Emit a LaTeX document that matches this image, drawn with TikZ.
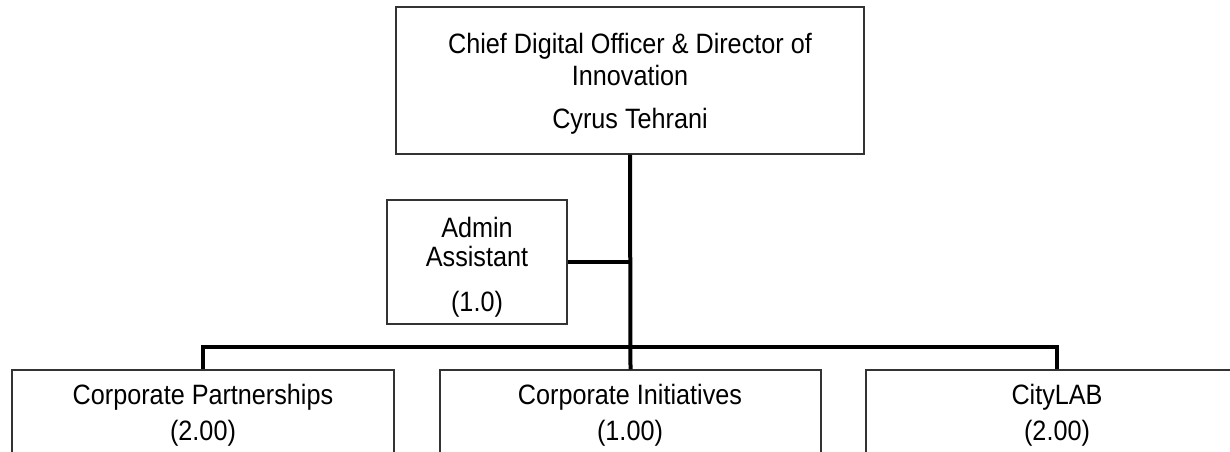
\documentclass[tikz,border=0pt]{standalone}
\usepackage{fontspec}
\setmainfont[FakeStretch=0.9]{Liberation Sans}
\begin{document}
\begin{tikzpicture}[x=1pt,y=-1pt,
  box/.style={draw=black!80,line width=1.3pt,inner sep=0pt},
  link/.style={draw=black,line width=4pt},
  txt/.style={inner sep=0pt,anchor=base,font=\fontsize{28}{32}\selectfont}]
\useasboundingbox (0,0) rectangle (1230,451);
\clip (0,0) rectangle (1230,451);
% boxes
\node[box,minimum width=468pt,minimum height=147pt] (top) at (630,80.5) {};
\node[box,minimum width=180pt,minimum height=124pt] (adm) at (477,262) {};
\node[box,minimum width=382pt,minimum height=160pt] (cp) at (203,450) {};
\node[box,minimum width=381pt,minimum height=160pt] (ci) at (630.5,450) {};
\node[box,minimum width=382pt,minimum height=160pt] (cl) at (1057,450) {};
% texts
\node[txt] (t1) at (630,53) {Chief Digital Officer \& Director of};
\node[txt] (t2) at (630,85) {Innovation};
\node[txt] (t3) at (630,128) {Cyrus Tehrani};
\node[txt] (a1) at (477,237) {Admin};
\node[txt] (a2) at (477,266) {Assistant};
\node[txt] (a3) at (477,311) {(1.0)};
\node[txt] (p1) at (203,404) {Corporate Partnerships};
\node[txt] (p2) at (203,440) {(2.00)};
\node[txt] (i1) at (630,404) {Corporate Initiatives};
\node[txt] (i2) at (630,440) {(1.00)};
\node[txt] (c1) at (1057,404) {CityLAB};
\node[txt] (c2) at (1057,440) {(2.00)};
% connectors
\coordinate (bus) at (630,347);
\coordinate (mid) at (630,262);
\path[link] (top.south) -- (ci.north);
\path[link] (adm.east) -- (mid);
\path[link] (cp.north) -- (cp.north |- bus) -- (cl.north |- bus) -- (cl.north);
\end{tikzpicture}
\end{document}
